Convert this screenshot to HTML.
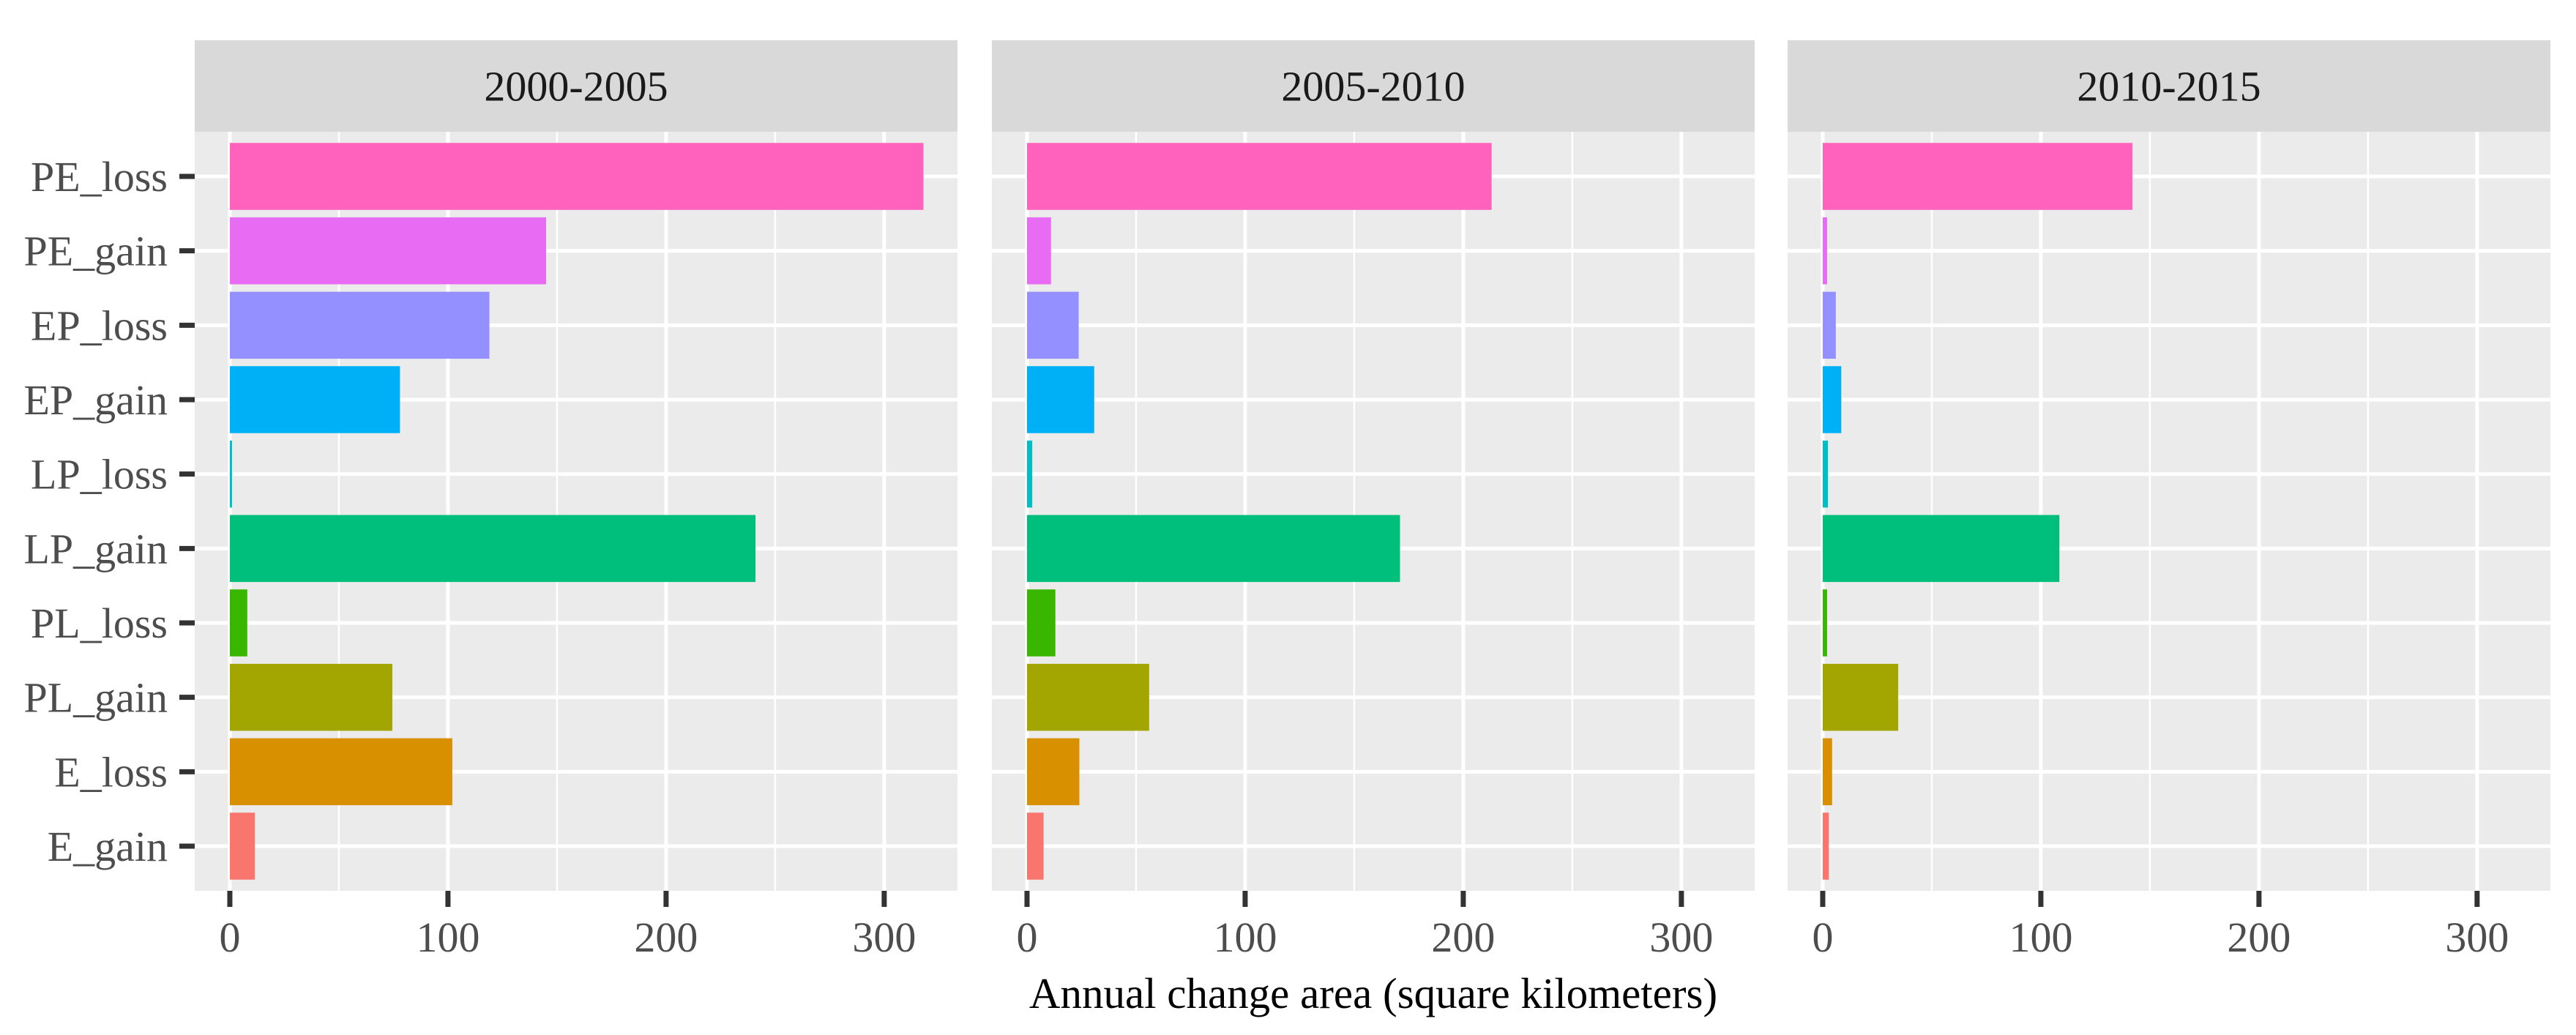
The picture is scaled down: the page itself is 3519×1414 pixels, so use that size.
<!DOCTYPE html>
<html><head><meta charset="utf-8"><style>
html,body{margin:0;padding:0;background:#fff;}
svg{display:block;font-family:"Liberation Serif","Times New Roman",serif;}
</style></head><body>
<svg id="chart" width="3519" height="1414" viewBox="0 0 3519 1414" xmlns="http://www.w3.org/2000/svg"></svg>
<script>
const categories = ["PE_loss","PE_gain","EP_loss","EP_gain","LP_loss","LP_gain","PL_loss","PL_gain","E_loss","E_gain"];
const colors = ["#FF62BC","#E76BF3","#9590FF","#00B0F6","#00BFC4","#00BF7D","#39B600","#A3A500","#D89000","#F8766D"];
const panels = ["2000-2005","2005-2010","2010-2015"];
const values2000 = [318,145,119,78,1,241,8,74.5,102,11.5];
const values2005 = [213,11,23.7,30.8,2.4,171,13,56,24,7.6];
const values2010 = [142,2,6,8.5,2.4,108.5,2,34.6,4.3,2.8];
const seriesValues = [values2000, values2005, values2010];
const xTicks = [0,100,200,300];
const xMinor = [50,150,250];

const NS = "http://www.w3.org/2000/svg";
const svg = document.getElementById("chart");
function mk(tag, attrs, parent){const e=document.createElementNS(NS,tag);for(const k in attrs)e.setAttribute(k,attrs[k]);(parent||svg).appendChild(e);return e;}

const panelLefts = [266, 1355, 2442];
const panelW = 1042;
const plotTop = 180, plotBottom = 1217, stripTop = 55;
const xMin = -16.1, xMax = 333.6;
const band = (plotBottom-plotTop)/(categories.length - 1 + 1.2);
function yScale(i){return plotTop + band*0.6 + band*i;}

panels.forEach((p, pi) => {
  const L = panelLefts[pi];
  const xs = v => L + (v - xMin)/(xMax - xMin)*panelW;
  const g = mk("g", {});
  
  
  const bg = mk("rect", {x:L, y:plotTop, width:panelW, height:plotBottom-plotTop, fill:"#EBEBEB"}, g);
  
  
  const strip = mk("rect", {x:L, y:stripTop, width:panelW, height:plotTop-stripTop, fill:"#D9D9D9"}, g);
  
  
  const st = mk("text", {x:L+panelW/2, y:(stripTop+plotTop)/2+20, "text-anchor":"middle", "font-size":58, fill:"#1A1A1A"}, g);
  st.textContent = p;
  
  
  xMinor.forEach(v => {
    const l = mk("line", {x1:xs(v), x2:xs(v), y1:plotTop, y2:plotBottom, stroke:"#fff", "stroke-width":2.5}, g);
    
    
  });
  xTicks.forEach(v => {
    const l = mk("line", {x1:xs(v), x2:xs(v), y1:plotTop, y2:plotBottom, stroke:"#fff", "stroke-width":5}, g);
    
    
  });
  categories.forEach((c, i) => {
    const l = mk("line", {x1:L, x2:L+panelW, y1:yScale(i), y2:yScale(i), stroke:"#fff", "stroke-width":5}, g);
    
    
  });
  seriesValues[pi].forEach((v, i) => {
    const y = yScale(i);
    const b = mk("rect", {x:xs(0), y:y-band*0.45, width:Math.max(xs(v)-xs(0),1), height:band*0.9, fill:colors[i]}, g);
    
    
  });
  xTicks.forEach(v => {
    const t = mk("line", {x1:xs(v), x2:xs(v), y1:plotBottom, y2:plotBottom+22, stroke:"#333", "stroke-width":7}, g);
    
    
    const tl = mk("text", {x:xs(v), y:1300, "text-anchor":"middle", "font-size":58, fill:"#4D4D4D"}, g);
    tl.textContent = v;
    
    
  });
  if (pi === 0) {
    categories.forEach((c, i) => {
      const y = yScale(i);
      const t = mk("line", {x1:245, x2:L, y1:y, y2:y, stroke:"#333", "stroke-width":7}, g);
      
      
      const tl = mk("text", {x:229, y:y+20, "text-anchor":"end", "font-size":58, fill:"#4D4D4D"}, g);
      tl.textContent = c;
      
      
    });
  }
});
const title = mk("text", {x:1876, y:1377, "text-anchor":"middle", "font-size":59, fill:"#000"});
title.textContent = "Annual change area (square kilometers)";


</script>
</body></html>
